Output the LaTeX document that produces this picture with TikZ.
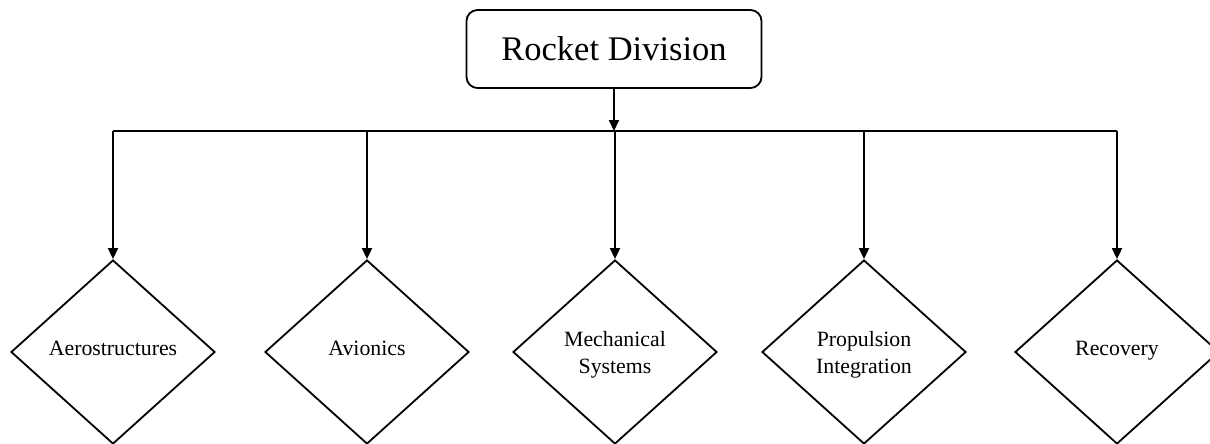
\documentclass[tikz,border=0pt]{standalone}
\usepackage{fontspec}
\setmainfont{Liberation Serif}
\usetikzlibrary{shapes.geometric,arrows.meta}
\begin{document}
\begin{tikzpicture}[x=1pt,y=-1pt,
  line width=1.8pt,
  conn/.style={-{Triangle[length=11pt,width=10pt]}},
  topbox/.style={draw,rounded corners=11pt,minimum width=295pt,minimum height=78pt,inner sep=0pt,font=\fontsize{34.5}{40}\selectfont},
  dia/.style={draw,diamond,minimum width=204pt,minimum height=184pt,inner sep=0pt,align=center,font=\fontsize{21.8}{26.5}\selectfont},
  oneline/.style={text height=0.85em,text depth=0.12em},
  twoline/.style={text height=47pt,text depth=4.7pt}]
\useasboundingbox (0,0) rectangle (1210,444);
\node[topbox] (top) at (614,49) {Rocket Division};
\node[dia,oneline] (d1) at (113,352) {Aerostructures};
\node[dia,oneline] (d2) at (367,352) {Avionics};
\node[dia,twoline] (d3) at (615,352) {Mechanical\\Systems};
\node[dia,twoline] (d4) at (864,352) {Propulsion\\Integration};
\node[dia,oneline] (d5) at (1117,352) {Recovery};
\coordinate (bL) at (113,131);
\coordinate (bR) at (1117,131);
\coordinate (bM) at (top.south |- bL);
\draw[conn] (top.south) -- (bM);
\draw (bL) -- (bR);
\foreach \d in {d1,d2,d3,d4,d5}{
  \draw[conn] (\d.north |- bL) -- (\d.north);
}
\end{tikzpicture}
\end{document}
